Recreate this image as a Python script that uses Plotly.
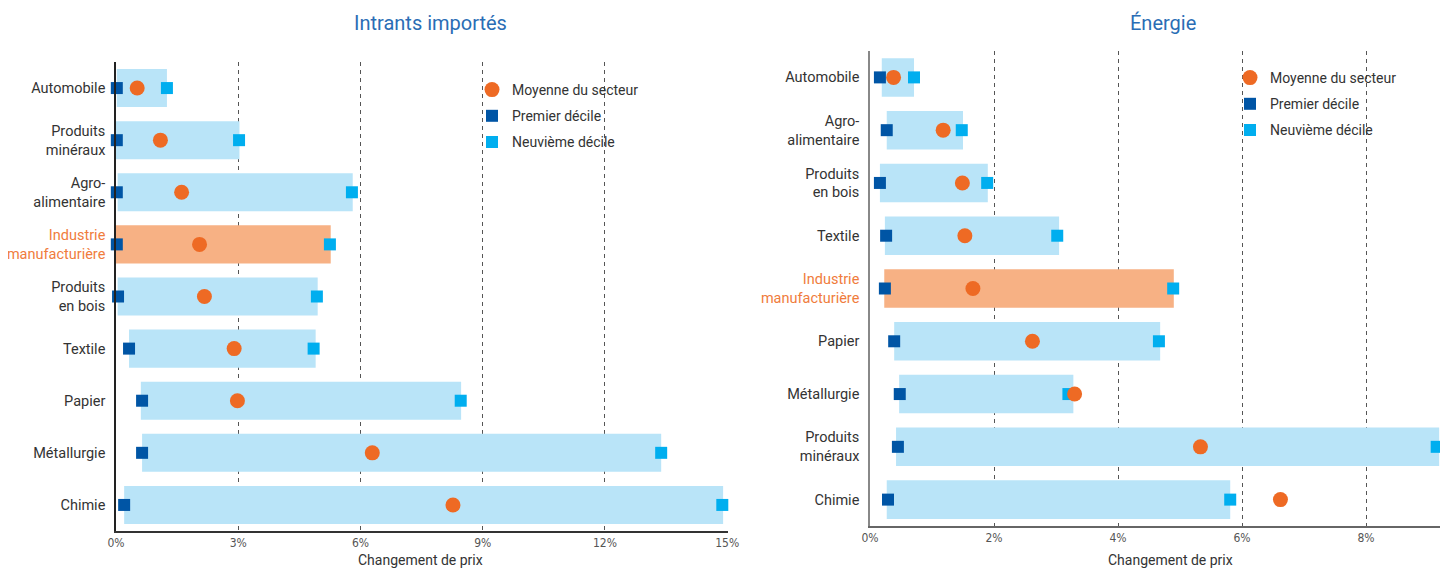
import plotly.graph_objects as go

# ---- data: Intrants importés (left) ----
imp_sectors = ["Automobile", "Produits<br>minéraux", "Agro-<br>alimentaire", "Industrie<br>manufacturière",
               "Produits<br>en bois", "Textile", "Papier", "Métallurgie", "Chimie"]
imp_bar_start = [0.02, 0.0, 0.04, 0.0, 0.04, 0.32, 0.61, 0.64, 0.2]
imp_bar_end = [1.25, 3.03, 5.81, 5.27, 4.95, 4.9, 8.47, 13.38, 14.9]
imp_first = [0.02, 0.02, 0.02, 0.02, 0.05, 0.32, 0.64, 0.64, 0.2]
imp_mean = [0.52, 1.09, 1.61, 2.05, 2.17, 2.9, 2.98, 6.29, 8.27]
imp_ninth = [1.25, 3.02, 5.79, 5.25, 4.93, 4.85, 8.46, 13.38, 14.88]
imp_ticks = [0, 3, 6, 9, 12, 15]

# ---- data: Énergie (right) ----
en_sectors = ["Automobile", "Agro-<br>alimentaire", "Produits<br>en bois", "Textile", "Industrie<br>manufacturière",
              "Papier", "Métallurgie", "Produits<br>minéraux", "Chimie"]
en_bar_start = [0.19, 0.27, 0.16, 0.24, 0.23, 0.39, 0.47, 0.42, 0.27]
en_bar_end = [0.71, 1.5, 1.9, 3.05, 4.9, 4.68, 3.28, 9.18, 5.81]
en_first = [0.16, 0.27, 0.16, 0.26, 0.24, 0.39, 0.48, 0.45, 0.29]
en_mean = [0.38, 1.18, 1.49, 1.53, 1.66, 2.62, 3.3, 5.33, 6.62]
en_ninth = [0.71, 1.48, 1.89, 3.02, 4.89, 4.66, 3.2, 9.14, 5.81]
en_ticks = [0, 2, 4, 6, 8]

HIGHLIGHT = "Industrie<br>manufacturière"
BAR_BLUE = "#b9e4f8"
BAR_ORANGE = "#f7b184"
DOT_ORANGE = "#ee6a24"
DARK_SQ = "#0055a5"
LIGHT_SQ = "#00aeef"
TXT = "#333333"
TICK_FONT = dict(family="Liberation Sans Narrow, DejaVu Sans Condensed, Roboto, sans-serif", size=12,
                 color="#555555")
LBL_FONT = dict(family="Roboto, sans-serif", size=14.5, color=TXT)

# the page body adds an 8px margin, so the figure is a bit smaller and positions are shifted
OFF = 8
W, H = 1440, 561


def px(x):
    return (x - OFF) / W


def py(y):
    return 1 - (y - OFF) / H


fig = go.Figure()


def add_panel(sectors, start, end, first, mean, ninth, xa, ya, legend):
    widths = [e - s for s, e in zip(start, end)]
    colors = [BAR_ORANGE if s == HIGHLIGHT else BAR_BLUE for s in sectors]
    fig.add_trace(go.Bar(y=sectors, x=widths, base=start, orientation="h", marker=dict(color=colors, line_width=0),
                         width=0.73, xaxis=xa, yaxis=ya, showlegend=False, hoverinfo="skip"))
    fig.add_trace(go.Scatter(y=sectors, x=first, mode="markers", name="Premier décile", cliponaxis=False,
                             marker=dict(symbol="square", size=12, color=DARK_SQ), xaxis=xa, yaxis=ya,
                             legend=legend, legendgroup=legend + "b", legendrank=2))
    fig.add_trace(go.Scatter(y=sectors, x=ninth, mode="markers", name="Neuvième décile", cliponaxis=False,
                             marker=dict(symbol="square", size=12, color=LIGHT_SQ), xaxis=xa, yaxis=ya,
                             legend=legend, legendgroup=legend + "c", legendrank=3))
    fig.add_trace(go.Scatter(y=sectors, x=mean, mode="markers", name="Moyenne du secteur", cliponaxis=False,
                             marker=dict(symbol="circle", size=15, color=DOT_ORANGE), xaxis=xa, yaxis=ya,
                             legend=legend, legendgroup=legend + "a", legendrank=1))


add_panel(imp_sectors, imp_bar_start, imp_bar_end, imp_first, imp_mean, imp_ninth, "x", "y", "legend")
add_panel(en_sectors, en_bar_start, en_bar_end, en_first, en_mean, en_ninth, "x2", "y2", "legend2")


def ticktext(sectors):
    return [f'<span style="color:#f07c3c">{s}</span>' if s == HIGHLIGHT else s for s in sectors]


xcommon = dict(showgrid=True, griddash="4px,4px", gridcolor="#555555", gridwidth=1, zeroline=False,
               showline=True, linecolor="#333333", linewidth=1.5, ticks="", tickfont=TICK_FONT,
               automargin=False, fixedrange=True)
ycommon = dict(type="category", showgrid=False, zeroline=False, showline=True, linewidth=1.5,
               ticks="", tickfont=LBL_FONT, ticklabelstandoff=6, automargin=False, range=[8.5, -0.5])

fig.update_layout(
    width=W, height=H,
    margin=dict(l=0, r=0, t=0, b=0),
    plot_bgcolor="white", paper_bgcolor="white",
    barmode="overlay",
    font=dict(family="Roboto, sans-serif", color=TXT),
    xaxis=dict(xcommon, domain=[px(116), px(728)], range=[0, 15.02], anchor="y",
               tickvals=imp_ticks, ticktext=[f"{t}%" for t in imp_ticks]),
    yaxis=dict(ycommon, domain=[py(531), py(62)], linecolor="#222222", anchor="x",
               tickvals=imp_sectors, ticktext=ticktext(imp_sectors)),
    xaxis2=dict(xcommon, domain=[px(870), 1.0], range=[0, (1448 - 870) / 62.0], anchor="y2",
                linecolor="#666666", tickvals=en_ticks, ticktext=[f"{t}%" for t in en_ticks]),
    yaxis2=dict(ycommon, domain=[py(526), py(51)], linecolor="#888888", anchor="x2",
                tickvals=en_sectors, ticktext=ticktext(en_sectors)),
    legend=dict(x=px(472), y=py(74), xanchor="left", yanchor="top", bgcolor="rgba(0,0,0,0)",
                font=dict(size=14, color=TXT), tracegroupgap=5, itemclick=False),
    legend2=dict(x=px(1230), y=py(62), xanchor="left", yanchor="top", bgcolor="rgba(0,0,0,0)",
                 font=dict(size=14, color=TXT), tracegroupgap=5, itemclick=False),
    showlegend=True,
)

titles = [("Intrants importés", 430), ("Énergie", 1163)]
for text, cx in titles:
    fig.add_annotation(text=text, x=px(cx), y=py(23), xref="paper", yref="paper", showarrow=False,
                       xanchor="center", yanchor="middle", font=dict(size=20, color="#2a6db5"))
for cx in [420, 1170]:
    fig.add_annotation(text="Changement de prix", x=px(cx), y=py(560), xref="paper", yref="paper",
                       showarrow=False, xanchor="center", yanchor="middle", font=dict(size=14, color=TXT))

fig.write_html("out.html")
